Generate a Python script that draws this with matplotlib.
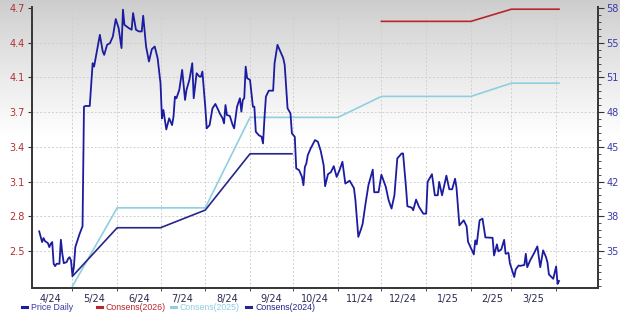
import numpy as np
import pandas as pd
import matplotlib
matplotlib.use("Agg")
import matplotlib.pyplot as plt
import matplotlib.dates as mdates
from matplotlib.ticker import FixedLocator, AutoMinorLocator

# --- donnees ---
price_dates = [
    "2024-04-08", "2024-04-10", "2024-04-11", "2024-04-12", "2024-04-14", "2024-04-15", "2024-04-16",
    "2024-04-17", "2024-04-18", "2024-04-19", "2024-04-20", "2024-04-22", "2024-04-23", "2024-04-24",
    "2024-04-25", "2024-04-27", "2024-04-28", "2024-04-29", "2024-04-30", "2024-05-01", "2024-05-02",
    "2024-05-03", "2024-05-06", "2024-05-08", "2024-05-09", "2024-05-10", "2024-05-13", "2024-05-15",
    "2024-05-16", "2024-05-20", "2024-05-22", "2024-05-23", "2024-05-25", "2024-05-27", "2024-05-29",
    "2024-05-31", "2024-06-02", "2024-06-04", "2024-06-05", "2024-06-06", "2024-06-09", "2024-06-11",
    "2024-06-12", "2024-06-14", "2024-06-16", "2024-06-18", "2024-06-19", "2024-06-21", "2024-06-23",
    "2024-06-25", "2024-06-27", "2024-06-29", "2024-07-01", "2024-07-02", "2024-07-03", "2024-07-05",
    "2024-07-07", "2024-07-09", "2024-07-10", "2024-07-11", "2024-07-12", "2024-07-14", "2024-07-16",
    "2024-07-18", "2024-07-19", "2024-07-21", "2024-07-23", "2024-07-24", "2024-07-26", "2024-07-28",
    "2024-07-29", "2024-07-30", "2024-08-01", "2024-08-02", "2024-08-04", "2024-08-06", "2024-08-08",
    "2024-08-10", "2024-08-11", "2024-08-13", "2024-08-14", "2024-08-15", "2024-08-16", "2024-08-18",
    "2024-08-20", "2024-08-21", "2024-08-23", "2024-08-25", "2024-08-26", "2024-08-27", "2024-08-28",
    "2024-08-29", "2024-08-30", "2024-09-01", "2024-09-03", "2024-09-04", "2024-09-05", "2024-09-07",
    "2024-09-09", "2024-09-10", "2024-09-11", "2024-09-12", "2024-09-14", "2024-09-17", "2024-09-18",
    "2024-09-20", "2024-09-22", "2024-09-24", "2024-09-25", "2024-09-27", "2024-09-29", "2024-09-30",
    "2024-10-02", "2024-10-03", "2024-10-05", "2024-10-07", "2024-10-08", "2024-10-09", "2024-10-10",
    "2024-10-11", "2024-10-13", "2024-10-16", "2024-10-18", "2024-10-20", "2024-10-22", "2024-10-23",
    "2024-10-25", "2024-10-27", "2024-10-29", "2024-10-31", "2024-11-02", "2024-11-04", "2024-11-06",
    "2024-11-09", "2024-11-11", "2024-11-12", "2024-11-13", "2024-11-15", "2024-11-17", "2024-11-18",
    "2024-11-20", "2024-11-22", "2024-11-25", "2024-11-26", "2024-11-29", "2024-12-01", "2024-12-04",
    "2024-12-06", "2024-12-08", "2024-12-10", "2024-12-12", "2024-12-15", "2024-12-16", "2024-12-18",
    "2024-12-19", "2024-12-22", "2024-12-23", "2024-12-25", "2024-12-27", "2024-12-30", "2025-01-01",
    "2025-01-02", "2025-01-05", "2025-01-07", "2025-01-09", "2025-01-10", "2025-01-12", "2025-01-15",
    "2025-01-17", "2025-01-19", "2025-01-21", "2025-01-22", "2025-01-24", "2025-01-27", "2025-01-29",
    "2025-01-30", "2025-02-03", "2025-02-04", "2025-02-05", "2025-02-07", "2025-02-09", "2025-02-11",
    "2025-02-14", "2025-02-16", "2025-02-17", "2025-02-19", "2025-02-20", "2025-02-22", "2025-02-24",
    "2025-02-25", "2025-02-27", "2025-02-28", "2025-03-03", "2025-03-04", "2025-03-06", "2025-03-07",
    "2025-03-10", "2025-03-11", "2025-03-12", "2025-03-14", "2025-03-17", "2025-03-19", "2025-03-21",
    "2025-03-23", "2025-03-25", "2025-03-26", "2025-03-27", "2025-03-30", "2025-04-01", "2025-04-02",
    "2025-04-03",
]
price = [
    36.85, 35.84, 36.22, 35.93, 35.74, 35.36, 35.68, 35.84, 33.78, 33.56, 33.78, 33.78, 36.06, 34.73,
    33.84, 33.94, 34.26, 34.41, 34.10, 32.67, 33.46, 35.36, 36.63, 37.33, 48.66, 48.73, 48.73, 52.78,
    52.46, 55.47, 53.89, 53.57, 54.52, 54.68, 55.31, 56.96, 56.11, 54.21, 57.85, 56.42, 56.11, 55.95,
    57.53, 55.95, 55.79, 55.79, 57.28, 54.36, 52.94, 54.11, 54.36, 53.26, 50.88, 47.56, 48.35, 46.51,
    47.56, 46.92, 47.71, 49.61, 49.46, 50.25, 52.15, 49.30, 50.25, 51.20, 52.78, 49.46, 51.83, 51.51,
    51.51, 51.99, 48.66, 46.61, 46.92, 48.51, 48.92, 48.35, 48.03, 47.56, 47.08, 48.82, 47.87, 47.78,
    46.92, 46.61, 48.66, 49.46, 48.19, 49.30, 49.46, 52.46, 51.36, 51.20, 48.66, 48.66, 46.29, 45.97,
    45.81, 45.18, 47.56, 49.61, 50.18, 50.18, 52.78, 54.52, 53.89, 53.26, 52.62, 48.51, 48.03, 46.13,
    45.81, 42.81, 42.65, 42.01, 41.22, 42.96, 43.28, 44.07, 44.71, 45.50, 45.34, 44.45, 43.12, 41.13,
    42.27, 42.46, 43.03, 42.01, 42.65, 43.44, 41.38, 41.65, 41.18, 40.94, 39.80, 36.33, 37.11, 37.58,
    39.48, 41.22, 42.70, 40.56, 40.56, 42.22, 41.08, 39.80, 39.01, 40.27, 43.76, 44.23, 44.23, 41.06,
    39.23, 39.10, 38.85, 39.86, 39.18, 38.53, 38.53, 41.54, 42.27, 40.27, 40.27, 41.54, 40.27, 42.13,
    40.84, 40.84, 41.84, 40.99, 37.42, 37.90, 37.33, 35.86, 34.67, 36.00, 35.62, 37.90, 38.06, 36.28,
    36.25, 36.24, 34.57, 35.62, 34.95, 35.14, 36.05, 34.73, 34.81, 33.81, 32.53, 33.24, 33.62, 33.58,
    33.67, 34.73, 33.46, 34.10, 34.86, 35.43, 33.46, 35.05, 34.41, 33.91, 32.77, 32.36, 33.53, 31.88,
    32.15,
]

cons_2024_dates = ["2024-05-01", "2024-06-01", "2024-07-01", "2024-08-01", "2024-09-01", "2024-09-30"]
cons_2024 = [2.27, 2.71, 2.71, 2.87, 3.38, 3.38]
cons_2025_dates = ["2024-05-01", "2024-06-01", "2024-08-01", "2024-09-01", "2024-11-01",
                   "2024-12-01", "2025-02-01", "2025-03-01", "2025-04-03"]
cons_2025 = [2.18, 2.89, 2.89, 3.71, 3.71, 3.90, 3.90, 4.02, 4.02]
cons_2026_dates = ["2024-12-01", "2025-02-01", "2025-03-01", "2025-04-03"]
cons_2026 = [4.58, 4.58, 4.69, 4.69]

left_labels = ["2.5", "2.8", "3.1", "3.4", "3.7", "4.1", "4.4", "4.7"]
right_labels = ["35", "38", "42", "45", "48", "51", "55", "58"]
month_labels = ["4/24", "5/24", "6/24", "7/24", "8/24", "9/24", "10/24", "11/24",
                "12/24", "1/25", "2/25", "3/25"]
legend_names = ["Price Daily", "Consens(2026)", "Consens(2025)", "Consens(2024)"]

# couleurs
c_price = "#1c1ca0"
c_2026 = "#b8262c"
c_2025 = "#8fcfe0"
c_2024 = "#26268a"

fig = plt.figure(figsize=(6.2, 3.16), dpi=100)

# fond degrade gris -> blanc
bg = fig.add_axes([0, 0, 1, 1], zorder=-10)
rows = np.arange(316)
grad = 0.80 + 0.20 * np.clip(rows / 140.0, 0, 1) ** 0.9
bg.imshow(np.repeat(grad[:, None], 2, axis=1), cmap="gray", vmin=0, vmax=1,
          aspect="auto", extent=[0, 1, 0, 1], origin="upper")
bg.set_xlim(0, 1)
bg.set_ylim(0, 1)
bg.axis("off")

ax = fig.add_axes([32 / 620, 1 - 288 / 316, 566 / 620, 281 / 316])
ax.patch.set_visible(False)
ax2 = ax.twinx()
ax2.patch.set_visible(False)

# consensus (axe gauche)
ax.plot(pd.to_datetime(cons_2025_dates), cons_2025, color=c_2025, lw=1.2, zorder=3)
ax.plot(pd.to_datetime(cons_2024_dates), cons_2024, color=c_2024, lw=1.2, zorder=3)
ax.plot(pd.to_datetime(cons_2026_dates), cons_2026, color=c_2026, lw=1.2, zorder=3)

# prix (axe droit)
ax2.plot(pd.to_datetime(price_dates), price, color=c_price, lw=1.3, zorder=4)

# echelles
lo, hi = 2.164, 4.71
ax.set_ylim(lo, hi)
to_right = lambda v: 35 + (v - 2.5) * 23 / 2.2
ax2.set_ylim(to_right(lo), to_right(hi))

ax.yaxis.set_major_locator(FixedLocator(np.linspace(2.5, 4.7, 8)))
ax.set_yticklabels(left_labels)
ax2.yaxis.set_major_locator(FixedLocator(np.linspace(35, 58, 8)))
ax2.set_yticklabels(right_labels)
ax2.yaxis.set_minor_locator(AutoMinorLocator(5))

ax.set_xlim(pd.Timestamp("2024-04-03"), pd.Timestamp("2025-04-30"))
ax.xaxis.set_major_locator(mdates.MonthLocator(bymonthday=1))
ax.xaxis.set_major_formatter(plt.NullFormatter())
ax.xaxis.set_minor_locator(mdates.MonthLocator(bymonthday=16))
ax.xaxis.set_minor_formatter(plt.FixedFormatter(month_labels))

ax.grid(True, which="major", color="#cfcfcf", ls=(0, (2, 2)), lw=0.7)
ax.set_axisbelow(True)

ax.tick_params(axis="y", labelsize=7, labelcolor="#b03030", length=3, width=0.8,
               color="#333333", pad=2)
ax2.tick_params(axis="y", which="major", labelsize=7, labelcolor="#3a3aa8",
                length=4, width=0.8, color="#333333", pad=2)
ax2.tick_params(axis="y", which="minor", length=2, width=0.6, color="#333333")
ax.tick_params(axis="x", which="major", length=2, width=0.6, color="#333333")
ax.tick_params(axis="x", which="minor", length=0, labelsize=7, labelcolor="#2a2a50", pad=4)

for a in (ax, ax2):
    a.spines["top"].set_visible(False)
    for s in ("left", "right", "bottom"):
        a.spines[s].set_color("#3a3a3a")
        a.spines[s].set_linewidth(1.4)

# legende en bas, placee a la main
leg_x = [22, 97, 171, 246]
leg_colors = [c_price, c_2026, c_2025, c_2024]
leg_text_colors = ["#3a3aa0", c_2026, c_2025, c_2024]
y_leg = 1 - 307 / 316
for x0, name, c, tc in zip(leg_x, legend_names, leg_colors, leg_text_colors):
    fig.add_artist(plt.Line2D([x0 / 620, (x0 + 5) / 620], [y_leg, y_leg],
                              color=c, lw=2.2, transform=fig.transFigure))
    fig.text((x0 + 9) / 620, y_leg, name, color=tc, fontsize=6.3,
             family="Liberation Sans", va="center", ha="left")

fig.savefig("out.png", dpi=100)
